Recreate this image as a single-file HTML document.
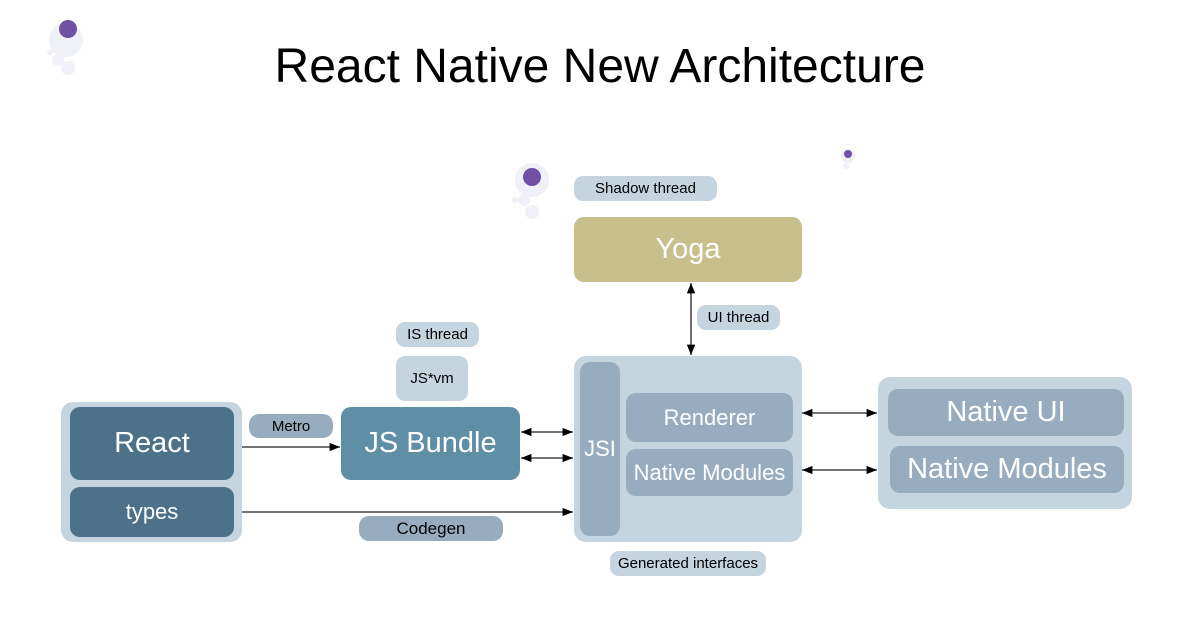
<!DOCTYPE html>
<html><head><meta charset="utf-8"><style>
body{margin:0;width:1200px;height:628px;background:#fff;position:relative;overflow:hidden;font-family:"Liberation Sans",sans-serif}
.b{position:absolute;display:flex;align-items:center;justify-content:center;border-radius:10px;box-sizing:border-box;white-space:nowrap}
.l{background:#c5d5df;color:#000;font-size:15px;border-radius:9px}
.m{background:#97adbf;color:#fff}
.d{background:#4d7189;color:#fff}
svg{position:absolute;left:0;top:0}
</style></head><body>
<div style="position:absolute;left:0;width:1200px;top:39px;text-align:center;font-size:48px;color:#000">React Native New Architecture</div>
<svg width="1200" height="628">
<g fill="#f0f0f8"><circle cx="66" cy="40" r="17"/><circle cx="58" cy="60" r="6"/><circle cx="68" cy="68" r="7"/><circle cx="50" cy="52" r="3"/>
<circle cx="532" cy="180" r="17"/><circle cx="524" cy="200" r="6"/><circle cx="532" cy="212" r="7"/><circle cx="515" cy="200" r="3"/>
<circle cx="848" cy="156" r="7"/><circle cx="846" cy="166" r="3"/></g>
<circle cx="68" cy="29" r="9" fill="#6f52a6"/><circle cx="532" cy="177" r="9" fill="#6f52a6"/><circle cx="848" cy="154" r="4" fill="#6f52a6"/>
</svg>
<div class="b l" style="left:61px;top:402px;width:181px;height:140px;border-radius:12px"></div>
<div class="b d" style="left:70px;top:407px;width:164px;height:73px;font-size:29px">React</div>
<div class="b d" style="left:70px;top:487px;width:164px;height:50px;font-size:22px">types</div>
<div class="b m" style="left:249px;top:414px;width:84px;height:24px;font-size:15px;color:#000">Metro</div>
<div class="b" style="left:341px;top:407px;width:179px;height:73px;background:#5e8fa6;color:#fff;font-size:29px">JS Bundle</div>
<div class="b l" style="left:396px;top:322px;width:83px;height:25px">IS thread</div>
<div class="b l" style="left:396px;top:356px;width:72px;height:45px">JS*vm</div>
<div class="b l" style="left:574px;top:176px;width:143px;height:25px">Shadow thread</div>
<div class="b" style="left:574px;top:217px;width:228px;height:65px;background:#c9bf8c;color:#fff;font-size:29px">Yoga</div>
<div class="b l" style="left:697px;top:305px;width:83px;height:25px">UI thread</div>
<div class="b l" style="left:574px;top:356px;width:228px;height:186px;border-radius:12px"></div>
<div class="b m" style="left:580px;top:362px;width:40px;height:174px;font-size:22px">JSI</div>
<div class="b m" style="left:626px;top:393px;width:167px;height:49px;font-size:22px">Renderer</div>
<div class="b m" style="left:626px;top:449px;width:167px;height:47px;font-size:22px">Native Modules</div>
<div class="b l" style="left:878px;top:377px;width:254px;height:132px;border-radius:12px"></div>
<div class="b m" style="left:888px;top:389px;width:236px;height:47px;font-size:29px">Native UI</div>
<div class="b m" style="left:890px;top:446px;width:234px;height:47px;font-size:29px">Native Modules</div>
<div class="b m" style="left:359px;top:516px;width:144px;height:25px;font-size:17px;color:#000">Codegen</div>
<div class="b l" style="left:610px;top:551px;width:156px;height:25px">Generated interfaces</div>
<svg width="1200" height="628">
<defs><marker id="a" viewBox="0 0 10 10" refX="10" refY="5" markerWidth="8" markerHeight="8" orient="auto-start-reverse"><path d="M0,1L10,5L0,9z" fill="#000"/></marker></defs>
<g stroke="#222" stroke-width="1.3" fill="none">
<line x1="242" y1="447" x2="340" y2="447" marker-end="url(#a)"/>
<line x1="242" y1="512" x2="573" y2="512" marker-end="url(#a)"/>
<line x1="521" y1="432" x2="573" y2="432" marker-end="url(#a)" marker-start="url(#a)"/>
<line x1="521" y1="458" x2="573" y2="458" marker-end="url(#a)" marker-start="url(#a)"/>
<line x1="802" y1="413" x2="877" y2="413" marker-end="url(#a)" marker-start="url(#a)"/>
<line x1="802" y1="470" x2="877" y2="470" marker-end="url(#a)" marker-start="url(#a)"/>
<line x1="691" y1="283" x2="691" y2="355" marker-end="url(#a)" marker-start="url(#a)"/>
</g></svg>
</body></html>
